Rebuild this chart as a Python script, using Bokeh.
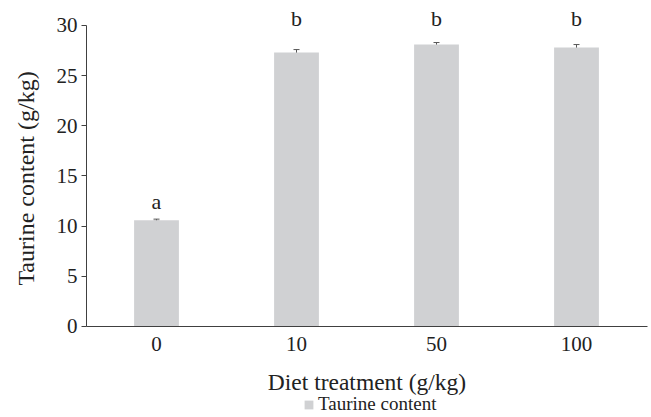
import math
from bokeh.plotting import figure
from bokeh.models import (ColumnDataSource, Range1d, FixedTicker, Whisker, TeeHead,
                          LabelSet, Label, Legend, LegendItem)
from bokeh.embed import file_html
from bokeh.resources import INLINE

categories = ["0", "10", "50", "100"]
taurine = [10.6, 27.3, 28.1, 27.8]
sem = [0.1, 0.3, 0.2, 0.3]
letters = ["a", "b", "b", "b"]
letter_y = [11.75, 29.9, 29.9, 29.9]
y_ticks = [0, 5, 10, 15, 20, 25, 30]
x_title = "Diet treatment (g/kg)"
y_title = "Taurine content (g/kg)"
series_name = "Taurine content"

FONT = "Liberation Serif"
TXT = "#222222"
xpos = list(range(len(categories)))
src = ColumnDataSource(dict(
    x=xpos, top=taurine,
    upper=[t + s for t, s in zip(taurine, sem)],
    lower=[t - s for t, s in zip(taurine, sem)],
    letter=letters, ly=letter_y,
))

# frame covers the whole canvas; axes are drawn at fixed data locations
p = figure(width=651, height=417, x_range=Range1d(-1.1143, 3.5357), y_range=Range1d(-9.07, 32.49),
           output_backend="svg", toolbar_location=None,
           min_border_left=0, min_border_right=0, min_border_top=0, min_border_bottom=0)
p.outline_line_color = None
p.xgrid.grid_line_color = None
p.ygrid.grid_line_color = None
p.background_fill_color = "white"
p.border_fill_color = "white"

bars = p.vbar(x="x", top="top", bottom=0, width=0.32, source=src, fill_color="#D0D1D3", line_color=None)

wh = Whisker(base="x", upper="upper", lower="lower", source=src, line_color="#555555", line_width=1,
             upper_head=TeeHead(size=6, line_color="#555555", line_width=1),
             lower_head=TeeHead(size=6, line_color="#555555", line_width=1))
p.add_layout(wh)

labels = LabelSet(x="x", y="ly", text="letter", source=src, text_align="center",
                  text_baseline="alphabetic", text_font=FONT, text_font_size="22px",
                  text_color=TXT)
p.add_layout(labels)

axis_color = "#404040"
yax = p.yaxis[0]
yax.fixed_location = -0.5
yax.ticker = FixedTicker(ticks=y_ticks)
yax.bounds = (0, 30)
yax.axis_line_color = axis_color
yax.major_tick_line_color = axis_color
yax.major_tick_out = 5
yax.major_tick_in = 0
yax.minor_tick_line_color = None
yax.major_label_text_font = FONT
yax.major_label_text_font_size = "21px"
yax.major_label_text_color = TXT
yax.major_label_standoff = 4

xax = p.xaxis[0]
xax.fixed_location = 0
xax.bounds = (-0.5, 3.507)
xax.ticker = FixedTicker(ticks=xpos)
xax.major_label_overrides = {i: c for i, c in zip(xpos, categories)}
xax.axis_line_color = axis_color
xax.major_tick_line_color = None
xax.major_tick_out = 0
xax.major_tick_in = 0
xax.minor_tick_line_color = None
xax.major_label_text_font = FONT
xax.major_label_text_font_size = "21px"
xax.major_label_text_color = TXT
xax.major_label_standoff = 11

p.add_layout(Label(x=1.5036, y=-5.5, text=x_title, text_align="center", text_baseline="alphabetic",
                   text_font=FONT, text_font_size="23.5px", text_color=TXT))
p.add_layout(Label(x=-0.9286, y=14.75, text=y_title, angle=math.pi / 2, text_align="center",
                   text_baseline="middle", text_font=FONT, text_font_size="24px", text_color=TXT))

legend = Legend(items=[LegendItem(label=series_name, renderers=[bars])],
                location=(303, 2), orientation="horizontal",
                label_text_font=FONT, label_text_font_size="19px", label_text_color=TXT,
                glyph_width=11, glyph_height=11, label_standoff=4,
                border_line_color=None, background_fill_alpha=0,
                padding=0, margin=0, spacing=0)
p.add_layout(legend)

open("out.html", "w").write(file_html(p, INLINE))
